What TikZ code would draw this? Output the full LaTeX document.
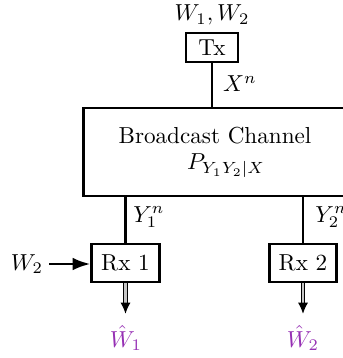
\documentclass[tikz,border=0pt]{standalone}
\usetikzlibrary{arrows.meta}
\definecolor{hatpurple}{RGB}{150,48,180}
\begin{document}
\begin{tikzpicture}[x=0.432pt,y=-0.432pt,
  blk/.style={draw,line width=1.25pt,inner sep=0pt},
  wire/.style={line width=1.25pt},
  inarrow/.style={line width=1.25pt,-{Latex[length=7.7pt,width=5.5pt]}},
  outarrow/.style={line width=0.5pt,double=gray!45,double distance=1.1pt,-{Latex[length=4.8pt,width=4.4pt]},shorten >=4.8pt},
  lbl/.style={inner sep=0pt}]
\useasboundingbox (0,0) rectangle (343,358);
% Tx
\node[blk,minimum width=22.5pt,minimum height=12.5pt] (tx) at (212,47.5) {Tx};
\node[lbl] (w12) at (212,15) {$W_1,W_2$};
% broadcast channel
\node[blk,minimum width=114pt,minimum height=38pt] (bc) at (215,152) {};
\node[lbl,anchor=base] (bctext) at (215,143) {Broadcast Channel};
\node[lbl] (pyx) at (226,166) {$P_{Y_1Y_2|X}$};
% receivers
\node[blk,minimum width=29pt,minimum height=16.4pt] (rx1) at (125.5,263) {Rx 1};
\node[blk,minimum width=29pt,minimum height=16.4pt] (rx2) at (303,263) {Rx 2};
% links
\draw[wire] (tx.south) -- (tx.south |- bc.north) coordinate (bctop);
\node[lbl] (xn) at (240,84) {$X^n$};
\draw[wire] (rx1.north) -- (rx1.north |- bc.south) coordinate (bcb1);
\node[lbl] (y1) at (149,217) {$Y_1^n$};
\draw[wire] (rx2.north) -- (rx2.north |- bc.south) coordinate (bcb2);
\node[lbl,anchor=west] (y2) at (315,217) {$Y_2^n$};
% side info
\node[lbl] (w2) at (27,264) {$W_2$};
\draw[inarrow] (w2.east) ++(2.4pt,0) coordinate (w2s) -- (rx1.west |- w2s);
% outputs
\node[lbl,text=hatpurple] (what1) at (126,338) {$\hat{W}_1$};
\node[lbl,text=hatpurple] (what2) at (303,338) {$\hat{W}_2$};
\draw[outarrow] (rx1.south) -- (rx1.south |- what1.north);
\draw[outarrow] (rx2.south) -- (rx2.south |- what2.north);
\end{tikzpicture}
\end{document}
